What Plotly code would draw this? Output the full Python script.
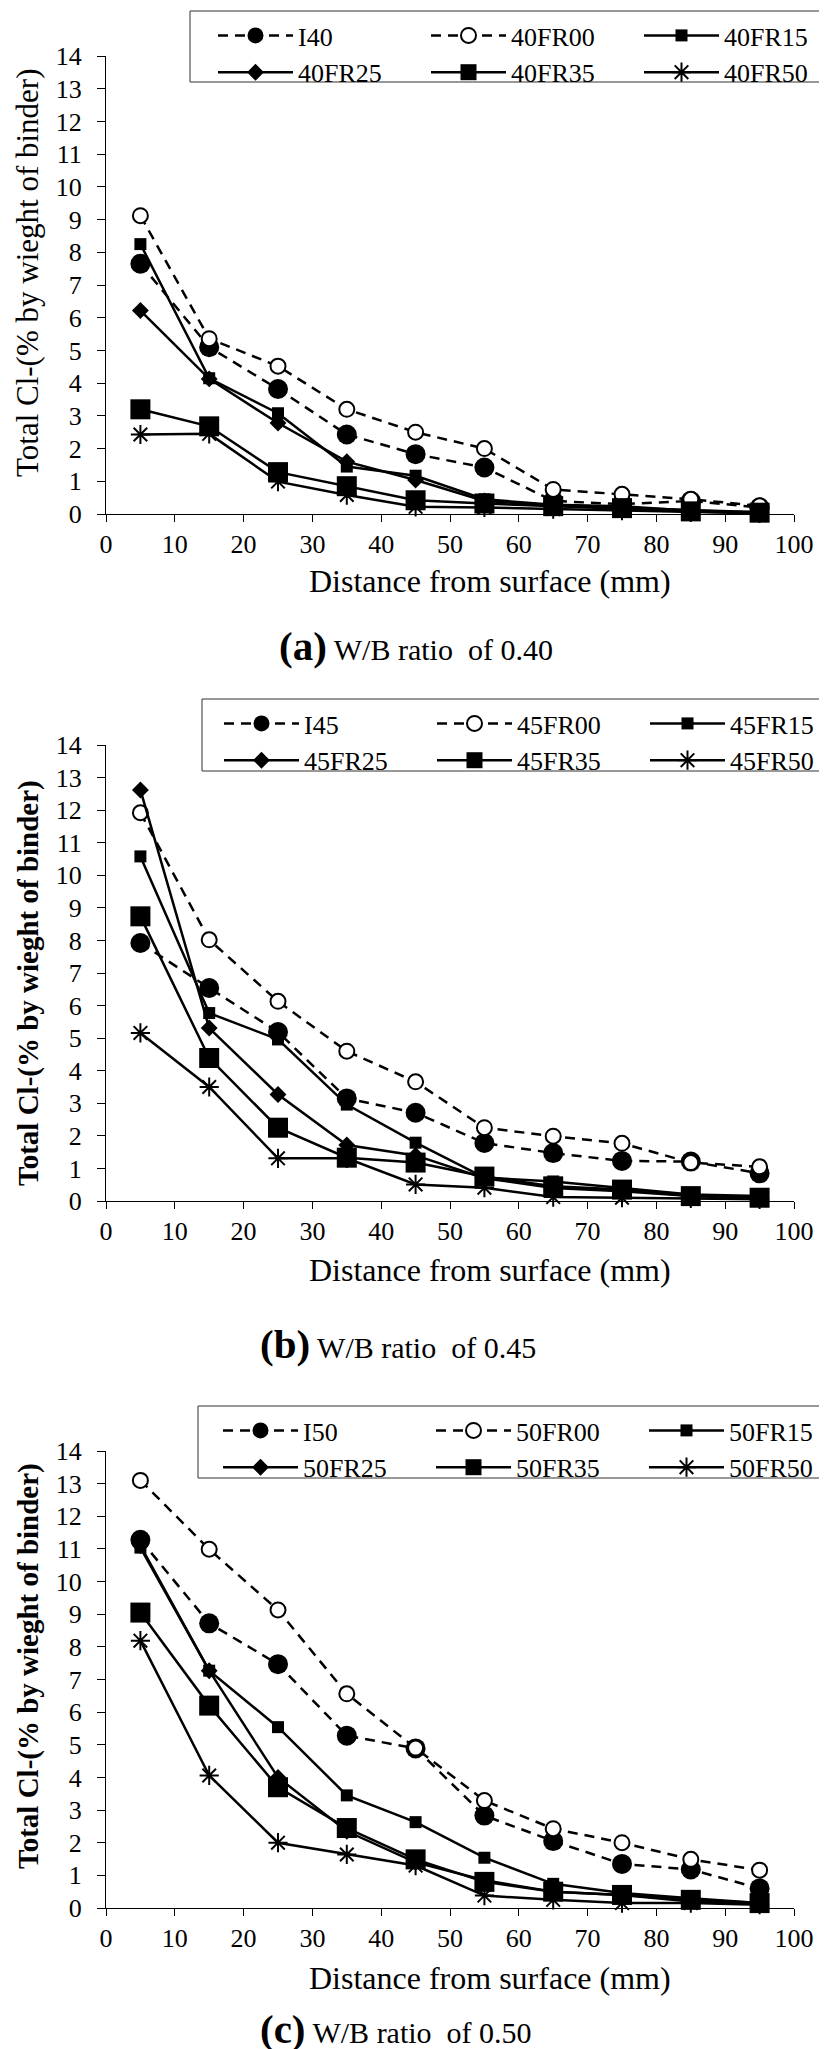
import plotly.graph_objects as go

W, H = 827, 2049
FONT = "Liberation Serif, 'Times New Roman', serif"

# ---------------- data ----------------
depth = [5, 15, 25, 35, 45, 55, 65, 75, 85, 95]

names_a = ["I40", "40FR00", "40FR15", "40FR25", "40FR35", "40FR50"]
I40    = [7.65, 5.10, 3.82, 2.43, 1.83, 1.42, 0.40, 0.30, 0.40, 0.20]
FR00_a = [9.12, 5.36, 4.52, 3.20, 2.50, 2.00, 0.75, 0.60, 0.45, 0.25]
FR15_a = [8.25, 4.15, 3.08, 1.45, 1.17, 0.45, 0.28, 0.24, 0.10, 0.05]
FR25_a = [6.22, 4.13, 2.78, 1.60, 1.04, 0.40, 0.26, 0.20, 0.12, 0.05]
FR35_a = [3.20, 2.68, 1.28, 0.85, 0.42, 0.32, 0.24, 0.18, 0.08, 0.04]
FR50_a = [2.43, 2.45, 0.99, 0.58, 0.22, 0.20, 0.15, 0.10, 0.05, 0.02]

names_b = ["I45", "45FR00", "45FR15", "45FR25", "45FR35", "45FR50"]
I45    = [7.92, 6.54, 5.19, 3.15, 2.71, 1.78, 1.47, 1.23, 1.21, 0.85]
FR00_b = [11.92, 8.02, 6.13, 4.60, 3.66, 2.25, 1.99, 1.77, 1.18, 1.05]
FR15_b = [10.58, 5.77, 4.96, 2.96, 1.79, 0.72, 0.60, 0.40, 0.20, 0.15]
FR25_b = [12.62, 5.31, 3.27, 1.72, 1.40, 0.70, 0.40, 0.30, 0.15, 0.10]
FR35_b = [8.74, 4.39, 2.25, 1.33, 1.18, 0.75, 0.45, 0.35, 0.15, 0.10]
FR50_b = [5.16, 3.50, 1.31, 1.31, 0.51, 0.41, 0.12, 0.10, 0.08, 0.05]

names_c = ["I50", "50FR00", "50FR15", "50FR25", "50FR35", "50FR50"]
I50    = [11.28, 8.72, 7.47, 5.28, 4.89, 2.83, 2.05, 1.35, 1.18, 0.60]
FR00_c = [13.10, 10.99, 9.13, 6.56, 4.90, 3.29, 2.43, 2.00, 1.49, 1.16]
FR15_c = [11.04, 7.27, 5.54, 3.45, 2.63, 1.54, 0.74, 0.46, 0.30, 0.15]
FR25_c = [11.10, 7.27, 4.00, 2.35, 1.40, 0.85, 0.50, 0.40, 0.20, 0.15]
FR35_c = [9.05, 6.20, 3.70, 2.45, 1.49, 0.80, 0.50, 0.40, 0.25, 0.15]
FR50_c = [8.19, 4.06, 2.00, 1.64, 1.30, 0.38, 0.25, 0.15, 0.15, 0.10]

x_ticks = [0, 10, 20, 30, 40, 50, 60, 70, 80, 90, 100]
y_ticks = list(range(0, 15))
x_title = "Distance from surface (mm)"
y_title = "Total Cl-(% by wieght of binder)"
captions = [("(a)", "W/B ratio\u00a0 of 0.40"),
            ("(b)", "W/B ratio\u00a0 of 0.45"),
            ("(c)", "W/B ratio\u00a0 of 0.50")]

# ---------------- styles ----------------
styles = [
    dict(dash="10px,7px", marker=dict(symbol="circle", size=20, color="black")),
    dict(dash="10px,7px", marker=dict(symbol="circle", size=15, color="white",
                                      line=dict(color="black", width=2))),
    dict(dash="solid", marker=dict(symbol="square", size=12, color="black")),
    dict(dash="solid", marker=dict(symbol="diamond", size=13, color="black")),
    dict(dash="solid", marker=dict(symbol="square", size=20, color="black")),
    dict(dash="solid", marker=dict(symbol="asterisk-open", size=16, color="black",
                                   line=dict(color="black", width=2))),
]

panels = [
    dict(names=names_a, series=[I40, FR00_a, FR15_a, FR25_a, FR35_a, FR50_a],
         top=48, bottom=506, box=(182, 816, 3, 74), leg_x=205,
         ytitle_c=265, ytitle_bold=False, xtitle=573, caption=638, cap_x=408),
    dict(names=names_b, series=[I45, FR00_b, FR15_b, FR25_b, FR35_b, FR50_b],
         top=737, bottom=1193, box=(194, 825, 691, 763), leg_x=211,
         ytitle_c=975, ytitle_bold=True, xtitle=1262, caption=1336, cap_x=390),
    dict(names=names_c, series=[I50, FR00_c, FR15_c, FR25_c, FR35_c, FR50_c],
         top=1443, bottom=1900, box=(190, 825, 1398, 1470), leg_x=210,
         ytitle_c=1658, ytitle_bold=True, xtitle=1970, caption=2021, cap_x=388),
]

X0, X1 = 98, 786

fig = go.Figure()
annotations = []
shapes = []
layout_extra = {}

for i, p in enumerate(panels):
    k = "" if i == 0 else str(i + 1)
    leg = "legend" if i == 0 else f"legend{i + 1}"
    for name, vals, st in zip(p["names"], p["series"], styles):
        fig.add_trace(go.Scatter(
            x=depth, y=vals, name=name, mode="lines+markers",
            line=dict(color="black", width=2.5, dash=st["dash"]),
            marker=st["marker"], cliponaxis=False,
            xaxis="x" + k, yaxis="y" + k, legend=leg,
        ))
    layout_extra["xaxis" + k] = dict(
        domain=[X0 / W, X1 / W], range=[0, 100], anchor="y" + k,
        tickmode="array", tickvals=x_ticks, ticks="outside", ticklen=7,
        tickcolor="black", showline=True, linecolor="black", linewidth=1,
        showgrid=False, zeroline=False, automargin=False,
        tickfont=dict(family=FONT, size=26, color="black"),
    )
    layout_extra["yaxis" + k] = dict(
        domain=[1 - p["bottom"] / H, 1 - p["top"] / H], range=[0, 14], anchor="x" + k,
        tickmode="array", tickvals=y_ticks, ticks="outside", ticklen=8,
        tickcolor="black", showline=True, linecolor="black", linewidth=1,
        showgrid=False, zeroline=False, ticklabelstandoff=10, automargin=False,
        tickfont=dict(family=FONT, size=26, color="black"),
    )
    bx0, bx1, by0, by1 = p["box"]
    shapes.append(dict(type="rect", xref="paper", yref="paper",
                       x0=bx0 / W, x1=bx1 / W, y0=1 - by1 / H, y1=1 - by0 / H,
                       line=dict(color="#333", width=1), fillcolor="white", layer="below"))
    layout_extra[leg] = dict(
        x=p["leg_x"] / W, xanchor="left", y=1 - (by0 + 1) / H, yanchor="top",
        orientation="h", borderwidth=0, bgcolor="rgba(0,0,0,0)",
        font=dict(family=FONT, size=26, color="black"),
        itemwidth=75, entrywidth=123, entrywidthmode="pixels",
        traceorder="normal", tracegroupgap=0,
    )
    annotations.append(dict(
        text=x_title, x=482 / W, y=1 - p["xtitle"] / H, xref="paper", yref="paper",
        showarrow=False, xanchor="center", yanchor="middle",
        font=dict(family=FONT, size=32, color="black")))
    yt = f"<b>{y_title}</b>" if p["ytitle_bold"] else y_title
    annotations.append(dict(
        text=yt, x=20 / W, y=1 - p["ytitle_c"] / H, xref="paper", yref="paper",
        showarrow=False, xanchor="center", yanchor="middle", textangle=-90,
        font=dict(family=FONT, size=29 if p["ytitle_bold"] else 31, color="black")))
    lab, rest = captions[i]
    annotations.append(dict(
        text=f"<b><span style='font-size:41px'>{lab}</span></b> {rest}",
        x=p["cap_x"] / W, y=1 - p["caption"] / H, xref="paper", yref="paper",
        showarrow=False, xanchor="center", yanchor="middle",
        font=dict(family=FONT, size=30, color="black")))

fig.update_layout(
    width=W, height=H, margin=dict(l=0, r=0, t=0, b=0, autoexpand=False),
    paper_bgcolor="white", plot_bgcolor="white",
    annotations=annotations, shapes=shapes, showlegend=True, **layout_extra,
)

fig.write_html("out.html")
